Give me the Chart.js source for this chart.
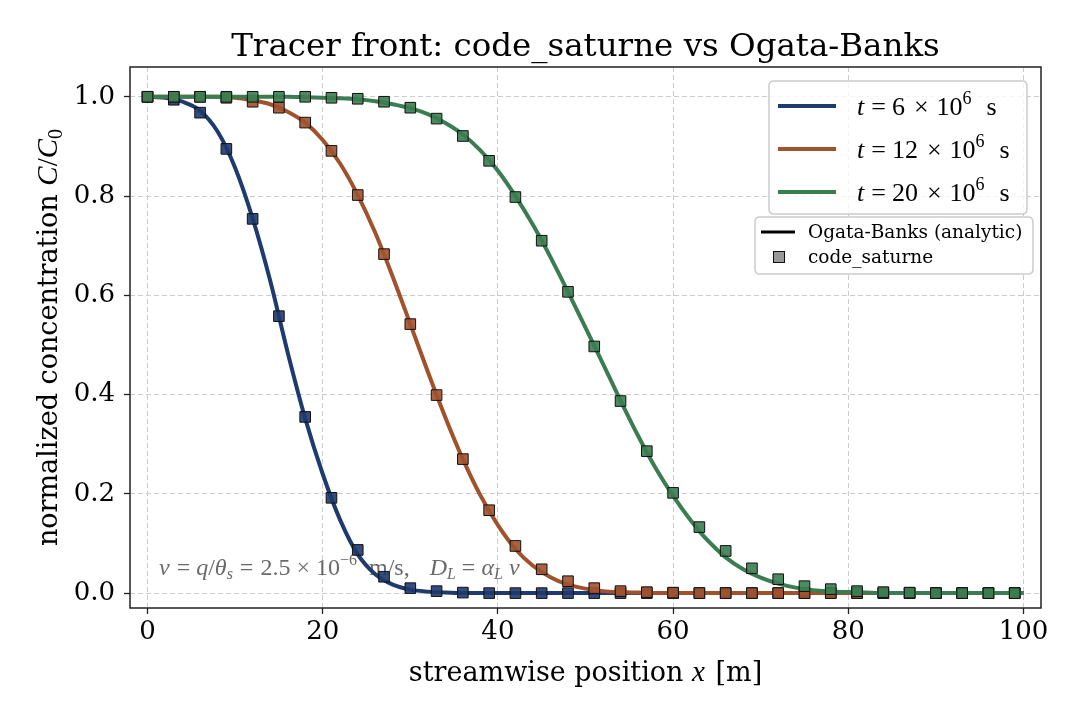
<!DOCTYPE html>
<html>
<head>
<meta charset="utf-8">
<script src="https://cdn.jsdelivr.net/npm/chart.js@4.4.1/dist/chart.umd.min.js"></script>
<style>
  html, body { margin: 0; padding: 0; background: #ffffff; }
  #wrap { width: 1080px; height: 720px; position: relative; }
</style>
</head>
<body>
<div id="wrap"><canvas id="c" width="1080" height="720"></canvas></div>
<script>
// ---------------- data ----------------
const seriesLabels = ['t = 6 × 10^6 s', 't = 12 × 10^6 s', 't = 20 × 10^6 s'];
const seriesTimes = ['6', '12', '20'];

// code_saturne markers
const xMarkers = [0, 3, 6, 9, 12, 15, 18, 21, 24, 27, 30, 33, 36, 39, 42, 45, 48, 51, 54, 57, 60, 63, 66, 69, 72, 75, 78, 81, 84, 87, 90, 93, 96, 99];
const csT6  = [1.000, 0.994, 0.968, 0.895, 0.754, 0.558, 0.355, 0.192, 0.087, 0.033, 0.010, 0.004, 0.001, 0.000, 0.000, 0.000, 0.000, 0.000, 0.000, 0.000, 0.000, 0.000, 0.000, 0.000, 0.000, 0.000, 0.000, 0.000, 0.000, 0.000, 0.000, 0.000, 0.000, 0.000];
const csT12 = [1.000, 1.000, 1.000, 0.998, 0.990, 0.978, 0.948, 0.891, 0.802, 0.683, 0.542, 0.399, 0.270, 0.167, 0.095, 0.048, 0.024, 0.010, 0.004, 0.002, 0.001, 0.000, 0.000, 0.000, 0.000, 0.000, 0.000, 0.000, 0.000, 0.000, 0.000, 0.000, 0.000, 0.000];
const csT20 = [1.000, 1.000, 1.000, 1.000, 1.000, 1.000, 1.000, 0.998, 0.996, 0.990, 0.978, 0.956, 0.921, 0.871, 0.798, 0.710, 0.607, 0.497, 0.387, 0.286, 0.202, 0.133, 0.085, 0.050, 0.028, 0.014, 0.008, 0.004, 0.002, 0.001, 0.000, 0.000, 0.000, 0.000];

// Ogata-Banks analytic curves (every 2 m)
const xCurve = [0, 2, 4, 6, 8, 10, 12, 14, 16, 18, 20, 22, 24, 26, 28, 30, 32, 34, 36, 38, 40, 42, 44, 46, 48, 50, 52, 54, 56, 58, 60, 62, 64, 66, 68, 70, 72, 74, 76, 78, 80, 82, 84, 86, 88, 90, 92, 94, 96, 98, 100];
const obT6  = [1.000, 0.998, 0.990, 0.972, 0.930, 0.857, 0.755, 0.630, 0.485, 0.352, 0.240, 0.147, 0.078, 0.038, 0.017, 0.007, 0.003, 0.001, 0.000, 0.000, 0.000, 0.000, 0.000, 0.000, 0.000, 0.000, 0.000, 0.000, 0.000, 0.000, 0.000, 0.000, 0.000, 0.000, 0.000, 0.000, 0.000, 0.000, 0.000, 0.000, 0.000, 0.000, 0.000, 0.000, 0.000, 0.000, 0.000, 0.000, 0.000, 0.000, 0.000];
const obT12 = [1.000, 1.000, 1.000, 1.000, 1.000, 0.998, 0.993, 0.985, 0.970, 0.948, 0.913, 0.865, 0.802, 0.726, 0.637, 0.542, 0.446, 0.354, 0.270, 0.197, 0.137, 0.089, 0.055, 0.032, 0.017, 0.009, 0.004, 0.002, 0.001, 0.000, 0.000, 0.000, 0.000, 0.000, 0.000, 0.000, 0.000, 0.000, 0.000, 0.000, 0.000, 0.000, 0.000, 0.000, 0.000, 0.000, 0.000, 0.000, 0.000, 0.000, 0.000];
const obT20 = [1.000, 1.000, 1.000, 1.000, 1.000, 1.000, 1.000, 1.000, 1.000, 0.999, 0.998, 0.997, 0.995, 0.991, 0.985, 0.977, 0.965, 0.947, 0.924, 0.892, 0.851, 0.800, 0.742, 0.677, 0.607, 0.535, 0.462, 0.388, 0.317, 0.252, 0.196, 0.147, 0.105, 0.072, 0.048, 0.031, 0.019, 0.011, 0.006, 0.003, 0.002, 0.001, 0.000, 0.000, 0.000, 0.000, 0.000, 0.000, 0.000, 0.000, 0.000];

const xTicks = [0, 20, 40, 60, 80, 100];
const yTicks = [0.0, 0.2, 0.4, 0.6, 0.8, 1.0];

// ---------------- styles ----------------
const COLORS = ['#1f3a6e', '#a0522d', '#3a7d50'];
const MARKER_FILL = ['rgba(31,58,110,0.9)', 'rgba(160,82,45,0.9)', 'rgba(58,125,80,0.9)'];
const SERIF = '"DejaVu Serif", serif';
const MATH = '"Liberation Serif", "DejaVu Serif", serif';

function pts(xs, ys) { return xs.map((x, i) => ({ x: x, y: ys[i] })); }

const curveSets = [obT6, obT12, obT20];
const markerSets = [csT6, csT12, csT20];
const datasets = [];
for (let k = 0; k < 3; k++) {
  datasets.push({
    label: 'Ogata-Banks ' + seriesLabels[k],
    data: pts(xCurve, curveSets[k]),
    showLine: true,
    borderColor: COLORS[k],
    borderWidth: 4,
    pointRadius: 0,
    pointHoverRadius: 0,
    cubicInterpolationMode: 'monotone',
    fill: false,
    order: 10 - 2 * k + 1
  });
  datasets.push({
    label: 'code_saturne ' + seriesLabels[k],
    data: pts(xMarkers, markerSets[k]),
    showLine: false,
    pointStyle: 'rect',
    pointRadius: 7.5,
    pointHoverRadius: 7.5,
    backgroundColor: MARKER_FILL[k],
    borderColor: '#111111',
    pointBorderWidth: 1,
    borderWidth: 1,
    order: 10 - 2 * k
  });
}

// -------- text helpers --------
function runsWidth(ctx, runs) {
  let w = 0;
  for (const r of runs) { ctx.font = r.f; w += ctx.measureText(r.t).width + (r.sp || 0); }
  return w;
}
function drawRuns(ctx, runs, x, y, align, color) {
  const w = runsWidth(ctx, runs);
  let cx = x;
  if (align === 'center') cx = x - w / 2;
  else if (align === 'right') cx = x - w;
  ctx.textBaseline = 'alphabetic';
  ctx.textAlign = 'left';
  for (const r of runs) {
    ctx.font = r.f;
    ctx.fillStyle = r.c || color || '#000';
    ctx.fillText(r.t, cx, y + (r.dy || 0));
    cx += ctx.measureText(r.t).width + (r.sp || 0);
  }
}
const F = (size, style, fam) => `${style ? style + ' ' : ''}${size}px ${fam || SERIF}`;

// annotation drawn beneath the curves
const annotationPlugin = {
  id: 'annot',
  beforeDatasetsDraw(chart) {
    const ctx = chart.ctx;
    ctx.save();
    const s = 24, ss = 16;
    const runs = [
      { t: 'v', f: F(s, 'italic', MATH), sp: 7 },
      { t: '=', f: F(s, '', MATH), sp: 6 },
      { t: 'q', f: F(s, 'italic', MATH) },
      { t: '/', f: F(s, '', MATH) },
      { t: 'θ', f: F(s, 'italic', MATH) },
      { t: 's', f: F(ss, 'italic', MATH), dy: 4, sp: 7 },
      { t: '=', f: F(s, '', MATH), sp: 7 },
      { t: '2.5', f: F(s, '', MATH), sp: 6 },
      { t: '×', f: F(s, '', MATH), sp: 6 },
      { t: '10', f: F(s, '', MATH) },
      { t: '−6', f: F(ss, '', MATH), dy: -10, sp: 12 },
      { t: 'm/s,', f: F(s, '', MATH), sp: 20 },
      { t: 'D', f: F(s, 'italic', MATH) },
      { t: 'L', f: F(ss, 'italic', MATH), dy: 4, sp: 6 },
      { t: '=', f: F(s, '', MATH), sp: 6 },
      { t: 'α', f: F(s, 'italic', MATH) },
      { t: 'L', f: F(ss, 'italic', MATH), dy: 4, sp: 6 },
      { t: 'v', f: F(s, 'italic', MATH) }
    ];
    drawRuns(ctx, runs, 159, 575, 'left', 'rgba(80,80,80,0.85)');
    ctx.restore();
  }
};

// frame, titles, legends
const decorPlugin = {
  id: 'decor',
  afterDatasetsDraw(chart) {
    const ctx = chart.ctx;
    const a = chart.chartArea;
    ctx.save();
    ctx.strokeStyle = '#222222';
    ctx.lineWidth = 1.5;
    ctx.strokeRect(a.left, a.top, a.right - a.left, a.bottom - a.top);
    ctx.restore();
  },
  afterDraw(chart) {
    const ctx = chart.ctx;
    const a = chart.chartArea;
    const cx = (a.left + a.right) / 2;
    const cy = (a.top + a.bottom) / 2;
    ctx.save();
    // title
    drawRuns(ctx, [{ t: 'Tracer front: code_saturne vs Ogata-Banks', f: F(32.5) }], cx, 56, 'center', '#000');
    // x label
    drawRuns(ctx, [
      { t: 'streamwise position ', f: F(27) },
      { t: 'x', f: F(29, 'italic', MATH), sp: 2 },
      { t: ' [m]', f: F(27) }
    ], cx, 681, 'center', '#000');
    // y label
    ctx.save();
    ctx.translate(57, cy);
    ctx.rotate(-Math.PI / 2);
    drawRuns(ctx, [
      { t: 'normalized concentration ', f: F(27) },
      { t: 'C', f: F(29, 'italic', MATH) },
      { t: '/', f: F(29, '', MATH) },
      { t: 'C', f: F(29, 'italic', MATH) },
      { t: '0', f: F(20, '', MATH), dy: 5 }
    ], 0, 0, 'center', '#000');
    ctx.restore();

    function roundBox(x, y, w, h, r) {
      ctx.beginPath();
      ctx.moveTo(x + r, y);
      ctx.lineTo(x + w - r, y);
      ctx.quadraticCurveTo(x + w, y, x + w, y + r);
      ctx.lineTo(x + w, y + h - r);
      ctx.quadraticCurveTo(x + w, y + h, x + w - r, y + h);
      ctx.lineTo(x + r, y + h);
      ctx.quadraticCurveTo(x, y + h, x, y + h - r);
      ctx.lineTo(x, y + r);
      ctx.quadraticCurveTo(x, y, x + r, y);
      ctx.closePath();
    }
    // legend 1 (time series)
    roundBox(769, 81, 258, 133, 5);
    ctx.fillStyle = 'rgba(255,255,255,0.8)';
    ctx.fill();
    ctx.strokeStyle = '#cccccc';
    ctx.lineWidth = 1.5;
    ctx.stroke();
    const ly = [106, 149, 192];
    for (let k = 0; k < 3; k++) {
      ctx.strokeStyle = COLORS[k];
      ctx.lineWidth = 4;
      ctx.beginPath();
      ctx.moveTo(778, ly[k]);
      ctx.lineTo(836, ly[k]);
      ctx.stroke();
      drawRuns(ctx, [
        { t: 't', f: F(26, 'italic', MATH), sp: 7 },
        { t: '=', f: F(26, '', MATH), sp: 6 },
        { t: seriesTimes[k], f: F(26, '', MATH), sp: 9 },
        { t: '×', f: F(26, '', MATH), sp: 8 },
        { t: '10', f: F(26, '', MATH) },
        { t: '6', f: F(18, '', MATH), dy: -11, sp: 15 },
        { t: 's', f: F(26, '', MATH) }
      ], 857, ly[k] + 9, 'left', '#000');
    }

    // legend 2 (styles)
    roundBox(755, 217, 278, 57, 5);
    ctx.fillStyle = 'rgba(255,255,255,0.92)';
    ctx.fill();
    ctx.strokeStyle = '#cccccc';
    ctx.lineWidth = 1.5;
    ctx.stroke();
    ctx.strokeStyle = '#000000';
    ctx.lineWidth = 3;
    ctx.beginPath();
    ctx.moveTo(761, 232);
    ctx.lineTo(795, 232);
    ctx.stroke();
    ctx.fillStyle = '#999999';
    ctx.fillRect(773, 251, 12, 12);
    ctx.strokeStyle = '#111111';
    ctx.lineWidth = 1;
    ctx.strokeRect(773.5, 251.5, 11, 11);
    drawRuns(ctx, [{ t: 'Ogata-Banks (analytic)', f: F(18.5) }], 808, 238, 'left', '#000');
    drawRuns(ctx, [{ t: 'code_saturne', f: F(18.5) }], 808, 263, 'left', '#000');
    ctx.restore();
  }
};

new Chart(document.getElementById('c'), {
  type: 'scatter',
  data: { datasets: datasets },
  options: {
    responsive: false,
    animation: false,
    devicePixelRatio: 1,
    layout: { padding: { left: 0, top: 67, right: 39, bottom: 0 } },
    plugins: { legend: { display: false }, tooltip: { enabled: false }, title: { display: false } },
    events: [],
    scales: {
      x: {
        type: 'linear',
        min: -2,
        max: 102,
        afterBuildTicks: (s) => { s.ticks = xTicks.map(v => ({ value: v })); },
        afterFit: (s) => { s.height = 112; },
        ticks: {
          color: '#000',
          font: { family: 'DejaVu Serif', size: 26 },
          padding: 3,
          maxRotation: 0,
          callback: (v) => String(v)
        },
        grid: {
          color: '#cccccc',
          lineWidth: 1,
          drawTicks: true,
          tickLength: 6,
          tickColor: '#222222',
          tickWidth: 1.3
        },
        border: { display: false, dash: [5, 3] }
      },
      y: {
        type: 'linear',
        min: -0.03,
        max: 1.06,
        afterBuildTicks: (s) => { s.ticks = yTicks.map(v => ({ value: v })); },
        afterFit: (s) => { s.width = 130; },
        ticks: {
          color: '#000',
          font: { family: 'DejaVu Serif', size: 26 },
          padding: 9,
          callback: (v) => Number(v).toFixed(1)
        },
        grid: {
          color: '#cccccc',
          lineWidth: 1,
          drawTicks: true,
          tickLength: 6,
          tickColor: '#222222',
          tickWidth: 1.3
        },
        border: { display: false, dash: [5, 3] }
      }
    }
  },
  plugins: [annotationPlugin, decorPlugin]
});
</script>
</body>
</html>
